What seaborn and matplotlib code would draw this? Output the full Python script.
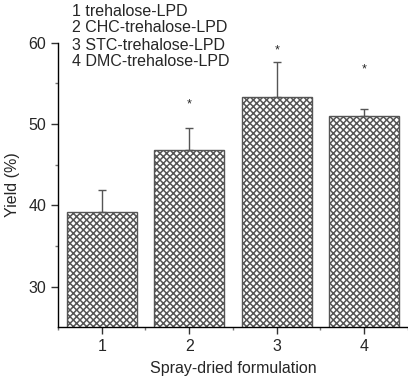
import matplotlib
matplotlib.use('Agg')
import matplotlib.pyplot as plt
from matplotlib.ticker import FixedLocator
import seaborn as sns
import pandas as pd

# 데이터
formulations = ['1', '2', '3', '4']
yield_mean = [39.2, 46.8, 53.3, 51.0]
yield_err = [2.7, 2.7, 4.3, 0.9]
star_y = [None, 52.4, 59.1, 56.7]
legend_lines = ['1 trehalose-LPD', '2 CHC-trehalose-LPD',
                '3 STC-trehalose-LPD', '4 DMC-trehalose-LPD']

sns.set_style('ticks')
plt.rcParams['font.family'] = ['Liberation Sans', 'DejaVu Sans']
plt.rcParams['hatch.linewidth'] = 1.1
plt.rcParams['hatch.color'] = '#111111'

df = pd.DataFrame({'form': formulations, 'yield': yield_mean})

fig = plt.figure(figsize=(4.08, 3.76), dpi=100)
ax = fig.add_axes([0.142, 0.130, 0.858, 0.756])

sns.barplot(x='form', y='yield', data=df, color='white', edgecolor='#555555',
            linewidth=1.0, width=0.8, errorbar=None, ax=ax)
for p in ax.patches:
    p.set_hatch('xxxxx')

xs = range(len(formulations))
ax.errorbar(xs, yield_mean, yerr=[[0] * 4, yield_err], fmt='none',
            ecolor='#555555', elinewidth=1.0, capsize=3, capthick=1.0, zorder=1)
for i, s in enumerate(star_y):
    if s is not None:
        ax.text(i, s, '*', ha='center', va='center', fontsize=9)

ax.set_ylim(25, 60)
ax.set_xlim(-0.5, 3.5)
ax.yaxis.set_major_locator(FixedLocator([30, 40, 50, 60]))
ax.yaxis.set_minor_locator(FixedLocator([35, 45, 55]))
ax.xaxis.set_minor_locator(FixedLocator([-0.5, 0.5, 1.5, 2.5, 3.5]))
ax.tick_params(which='major', length=5, width=1, labelsize=11.5, color='#333333')
ax.tick_params(which='minor', length=2.5, width=1, color='#777777')
sns.despine(ax=ax)
for sp in ['left', 'bottom']:
    ax.spines[sp].set_linewidth(1.0)
    ax.spines[sp].set_color('black')

ax.set_xlabel('Spray-dried formulation', fontsize=11.5, labelpad=5)
ax.set_ylabel('Yield (%)', fontsize=11.5, labelpad=6)

for k, line in enumerate(legend_lines):
    fig.text(72 / 408, 1 - (11 + 17 * k) / 376, line, fontsize=11.5,
             ha='left', va='center')

fig.savefig('out.png', dpi=100)
